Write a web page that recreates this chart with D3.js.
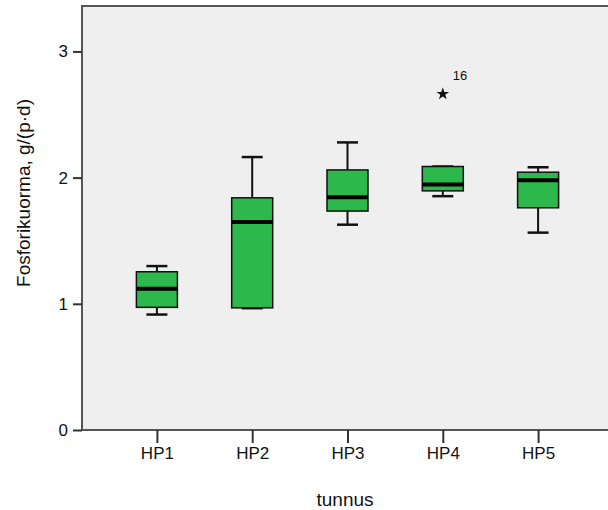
<!DOCTYPE html>
<html>
<head>
<meta charset="utf-8">
<script src="https://cdn.jsdelivr.net/npm/d3@7"></script>
<style>
  body { margin: 0; background: #fff; }
  text { font-family: "Liberation Sans", Arial, sans-serif; fill: #111; }
</style>
</head>
<body>
<div id="vis"></div>
<script>
// box plot statistics per group
const categories = ["HP1", "HP2", "HP3", "HP4", "HP5"];
const whiskerLow = [0.915, 0.965, 1.627, 1.853, 1.564];
const q1 = [0.972, 0.968, 1.735, 1.895, 1.761];
const medians = [1.12, 1.648, 1.845, 1.945, 1.98];
const q3 = [1.254, 1.84, 2.061, 2.088, 2.043];
const whiskerHigh = [1.299, 2.163, 2.279, 2.088, 2.082];
const outliers = [{ cat: "HP4", value: 2.663, label: "16" }];
const yTicks = [0, 1, 2, 3];

const width = 608, height = 510;
const margin = { top: 6, right: -5, bottom: 80, left: 82 };

const svg = d3.select("#vis").append("svg")
    .attr("width", width)
    .attr("height", height);

const x = d3.scalePoint()
    .domain(categories)
    .range([margin.left, width - margin.right])
    .padding(0.786);

const y = d3.scaleLinear()
    .domain([0, 3.36])
    .range([height - margin.bottom, margin.top]);

const boxes = categories.map((c, i) => ({
    cat: c, lo: whiskerLow[i], q1: q1[i], med: medians[i], q3: q3[i], hi: whiskerHigh[i]
}));

// plot background
svg.append("rect")
    .attr("x", margin.left)
    .attr("y", margin.top)
    .attr("width", width - margin.right - margin.left)
    .attr("height", y(0) - margin.top)
    .attr("fill", "#efefef")
    .attr("stroke", "#555")
    .attr("stroke-width", 2);

const boxW = 41, capW = 21;

const g = svg.selectAll(".box")
    .data(boxes)
    .enter().append("g")
    .attr("class", "box");

// whiskers
g.append("line")
    .attr("x1", d => x(d.cat)).attr("x2", d => x(d.cat))
    .attr("y1", d => y(d.hi)).attr("y2", d => y(d.q3))
    .attr("stroke", "#111").attr("stroke-width", 2);
g.append("line")
    .attr("x1", d => x(d.cat)).attr("x2", d => x(d.cat))
    .attr("y1", d => y(d.lo)).attr("y2", d => y(d.q1))
    .attr("stroke", "#111").attr("stroke-width", 2);
g.append("line")
    .attr("x1", d => x(d.cat) - capW / 2).attr("x2", d => x(d.cat) + capW / 2)
    .attr("y1", d => y(d.hi)).attr("y2", d => y(d.hi))
    .attr("stroke", "#111").attr("stroke-width", 2.5);
g.append("line")
    .attr("x1", d => x(d.cat) - capW / 2).attr("x2", d => x(d.cat) + capW / 2)
    .attr("y1", d => y(d.lo)).attr("y2", d => y(d.lo))
    .attr("stroke", "#111").attr("stroke-width", 2.5);

// box
g.append("rect")
    .attr("x", d => x(d.cat) - boxW / 2)
    .attr("y", d => y(d.q3))
    .attr("width", boxW)
    .attr("height", d => y(d.q1) - y(d.q3))
    .attr("fill", "#2db84b")
    .attr("stroke", "#111")
    .attr("stroke-width", 1.5);

// median
g.append("line")
    .attr("x1", d => x(d.cat) - boxW / 2).attr("x2", d => x(d.cat) + boxW / 2)
    .attr("y1", d => y(d.med)).attr("y2", d => y(d.med))
    .attr("stroke", "#000").attr("stroke-width", 4);

// outliers (extremes, star)
svg.selectAll(".out")
    .data(outliers)
    .enter().append("path")
    .attr("transform", d => "translate(" + x(d.cat) + "," + y(d.value) + ")")
    .attr("d", d3.symbol().type(d3.symbolStar).size(50))
    .attr("fill", "#111");
svg.selectAll(".outlab")
    .data(outliers)
    .enter().append("text")
    .attr("x", d => x(d.cat) + 10)
    .attr("y", d => y(d.value) - 14)
    .attr("font-size", "13px")
    .text(d => d.label);

// y axis
const yAxis = svg.append("g")
    .attr("transform", "translate(" + margin.left + ",0)")
    .call(d3.axisLeft(y).tickValues(yTicks).tickSize(9).tickPadding(5).tickFormat(d3.format("d")));
yAxis.select(".domain").remove();
yAxis.selectAll("line").attr("stroke", "#333").attr("stroke-width", 2);
yAxis.selectAll("text").attr("font-size", "17px").attr("fill", "#111")
    .style("font-family", "'Liberation Sans', Arial, sans-serif");

// x axis
const xAxis = svg.append("g")
    .attr("transform", "translate(0," + y(0) + ")")
    .call(d3.axisBottom(x).tickSize(13).tickPadding(4));
xAxis.select(".domain").remove();
xAxis.selectAll("line").attr("stroke", "#333").attr("stroke-width", 2);
xAxis.selectAll("text").attr("font-size", "17px").attr("fill", "#111")
    .style("font-family", "'Liberation Sans', Arial, sans-serif");

// axis titles
svg.append("text")
    .attr("x", 345)
    .attr("y", 506)
    .attr("text-anchor", "middle")
    .attr("font-size", "19px")
    .text("tunnus");

svg.append("text")
    .attr("transform", "translate(30,193) rotate(-90)")
    .attr("text-anchor", "middle")
    .attr("font-size", "19px")
    .text("Fosforikuorma, g/(p·d)");
</script>
</body>
</html>
